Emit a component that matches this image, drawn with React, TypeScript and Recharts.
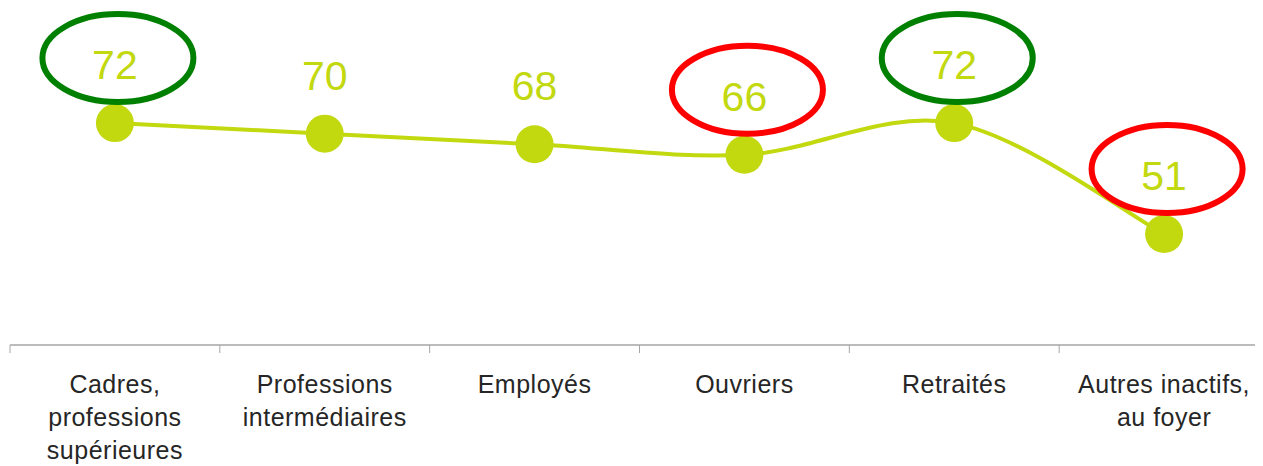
import React from 'react';
import { LineChart, Line, XAxis, YAxis, LabelList } from 'recharts';

// socio-professional categories (line breaks as in the original axis)
const categories = [
  'Cadres,\nprofessions\nsupérieures',
  'Professions\nintermédiaires',
  'Employés',
  'Ouvriers',
  'Retraités',
  'Autres inactifs,\nau foyer',
];
const scores = [72, 70, 68, 66, 72, 51];
// circled values: good = green, bad = red
const highlights = ['good', null, null, 'bad', 'good', 'bad'];
const yDomain = [30, 90];

const data = categories.map((name, i) => ({
  name,
  score: scores[i],
  mark: highlights[i],
}));

const LIME = '#c2d80f';
const AXIS = '#a6a6a6';
const CHART_W = 1261;
const CHART_H = 458;
const MARGIN = { top: 20, right: 0, bottom: 0, left: 2 };
const PLOT_W = CHART_W - MARGIN.left - MARGIN.right;
const BAND = PLOT_W / categories.length;
const TICK_SIZE = 8;

// Excel-like smoothed line (Catmull-Rom as cubic Bezier)
const excelSmooth = (context: any) => {
  let pts: number[][] = [];
  return {
    areaStart() {},
    areaEnd() {},
    lineStart() {
      pts = [];
    },
    point(x: number, y: number) {
      pts.push([+x, +y]);
    },
    lineEnd() {
      if (!pts.length) return;
      context.moveTo(pts[0][0], pts[0][1]);
      for (let i = 0; i < pts.length - 1; i++) {
        const p0 = pts[Math.max(i - 1, 0)];
        const p1 = pts[i];
        const p2 = pts[i + 1];
        const p3 = pts[Math.min(i + 2, pts.length - 1)];
        context.bezierCurveTo(
          p1[0] + (p2[0] - p0[0]) / 6,
          p1[1] + (p2[1] - p0[1]) / 6,
          p2[0] - (p3[0] - p1[0]) / 6,
          p2[1] - (p3[1] - p1[1]) / 6,
          p2[0],
          p2[1]
        );
      }
    },
  };
};

const CategoryTick = (props: any) => {
  const { x, y, payload, index } = props;
  const lines = String(payload.value).split('\n');
  const axisY = y - TICK_SIZE;
  const left = x - BAND / 2;
  return (
    <g>
      <line x1={left} y1={axisY} x2={left} y2={axisY + TICK_SIZE} stroke={AXIS} />
      {index === categories.length - 1 && (
        <line x1={left + BAND} y1={axisY} x2={left + BAND} y2={axisY + TICK_SIZE} stroke={AXIS} />
      )}
      <text
        x={x}
        y={y + 40}
        textAnchor="middle"
        fill="#262626"
        style={{
          fontFamily: '"Liberation Sans", sans-serif',
          fontSize: 25,
          letterSpacing: 0.5,
        }}
      >
        {lines.map((l, i) => (
          <tspan key={i} x={x} dy={i === 0 ? 0 : 33}>
            {l}
          </tspan>
        ))}
      </text>
    </g>
  );
};

const ValueLabel = (props: any) => {
  const vb = props.viewBox || {};
  const x = vb.x ?? props.x;
  const y = vb.y ?? props.y;
  const mark = highlights[props.index];
  const ring = mark === 'good' ? '#008000' : mark === 'bad' ? '#ff0000' : null;
  return (
    <g>
      {ring && (
        <ellipse cx={x + 3} cy={y - 65} rx={75.5} ry={44} fill="none" stroke={ring} strokeWidth={6} />
      )}
      <text
        x={x}
        y={y - 44}
        textAnchor="middle"
        fill={LIME}
        style={{ fontFamily: '"Liberation Sans", sans-serif', fontSize: 41 }}
      >
        {props.value}
      </text>
    </g>
  );
};

const App = () => {
  return (
    <div style={{ width: 1255, overflow: 'hidden' }}>
      <LineChart width={CHART_W} height={CHART_H} data={data} margin={MARGIN}>
        <XAxis
          dataKey="name"
          interval={0}
          height={121}
          padding={{ left: BAND / 2, right: BAND / 2 }}
          axisLine={{ stroke: AXIS, strokeWidth: 1.3 }}
          tickLine={false}
          tickSize={TICK_SIZE}
          tickMargin={0}
          tick={<CategoryTick />}
        />
        <YAxis hide domain={yDomain} />
        <Line
          type={excelSmooth as any}
          dataKey="score"
          stroke={LIME}
          strokeWidth={4}
          dot={{ r: 19, fill: LIME, stroke: 'none' }}
          activeDot={false}
          isAnimationActive={false}
        >
          <LabelList dataKey="score" content={<ValueLabel />} />
        </Line>
      </LineChart>
    </div>
  );
};

export default App;
